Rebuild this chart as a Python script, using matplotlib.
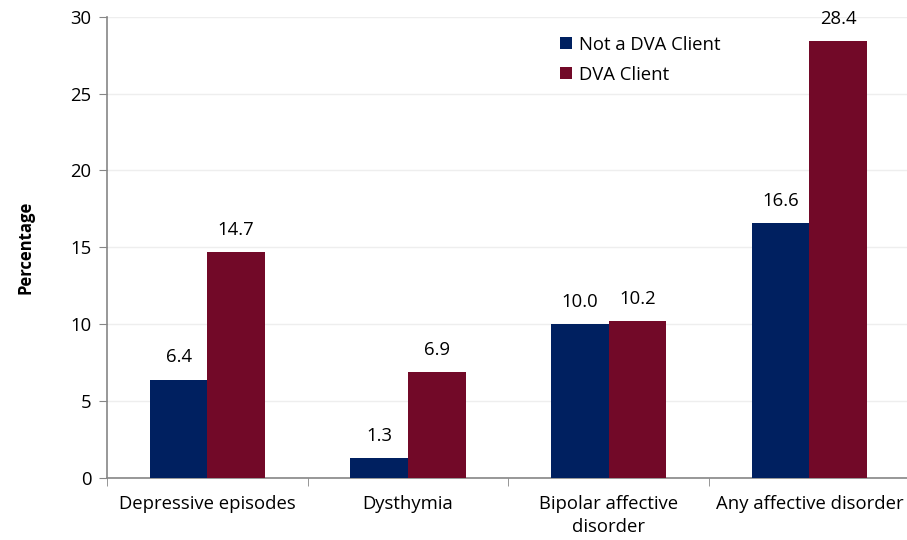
import matplotlib
matplotlib.use("Agg")
import matplotlib.pyplot as plt
import numpy as np

plt.rcParams['font.family'] = ['Open Sans', 'DejaVu Sans']

categories = ["Depressive episodes", "Dysthymia", "Bipolar affective\ndisorder", "Any affective disorder"]
not_dva = [6.4, 1.3, 10.0, 16.6]
dva = [14.7, 6.9, 10.2, 28.4]
series_names = ["Not a DVA Client", "DVA Client"]

navy = "#002060"
maroon = "#720928"
axis_grey = "#868686"
fs = 13.3

fig = plt.figure(figsize=(9.07, 5.4), dpi=100)
ax = fig.add_axes([0.118, 0.115, 0.885, 0.854])

x = np.arange(len(categories))
w = 0.287
b1 = ax.bar(x - w / 2, not_dva, width=w, color=navy, label=series_names[0], zorder=3)
b2 = ax.bar(x + w / 2, dva, width=w, color=maroon, label=series_names[1], zorder=3)

# value labels above bars
for bars, vals in [(b1, not_dva), (b2, dva)]:
    for r, v in zip(bars, vals):
        ax.text(r.get_x() + r.get_width() / 2, v + 0.85, f"{v:.1f}",
                ha="center", va="bottom", fontsize=fs, color="#000000")

ax.set_xlim(-0.5, len(categories) - 0.5)
ax.set_ylim(0, 30)
ax.set_yticks(range(0, 31, 5))
ax.set_ylabel("Percentage", fontsize=12, fontweight="bold", labelpad=26)

ax.set_xticks(x)
ax.set_xticklabels(categories, fontsize=fs, linespacing=1.4)
ax.tick_params(axis="x", length=0, pad=12)
# category boundary tick marks
ax.set_xticks(np.arange(-0.5, len(categories)), minor=True)
ax.tick_params(axis="x", which="minor", length=6, color=axis_grey, direction="out")
ax.tick_params(axis="y", labelsize=fs, length=6, color=axis_grey, pad=5)

ax.grid(axis="y", color="#eeeeee", linewidth=1, zorder=0)
for s in ["top", "right"]:
    ax.spines[s].set_visible(False)
for s in ["left", "bottom"]:
    ax.spines[s].set_color(axis_grey)
    ax.spines[s].set_linewidth(1.2)

leg = ax.legend(loc="upper left", bbox_to_anchor=(0.543, 0.995), frameon=False,
                fontsize=fs, handlelength=0.65, handleheight=0.65, labelspacing=0.65,
                handletextpad=0.4)

fig.savefig("out.png", dpi=100)
